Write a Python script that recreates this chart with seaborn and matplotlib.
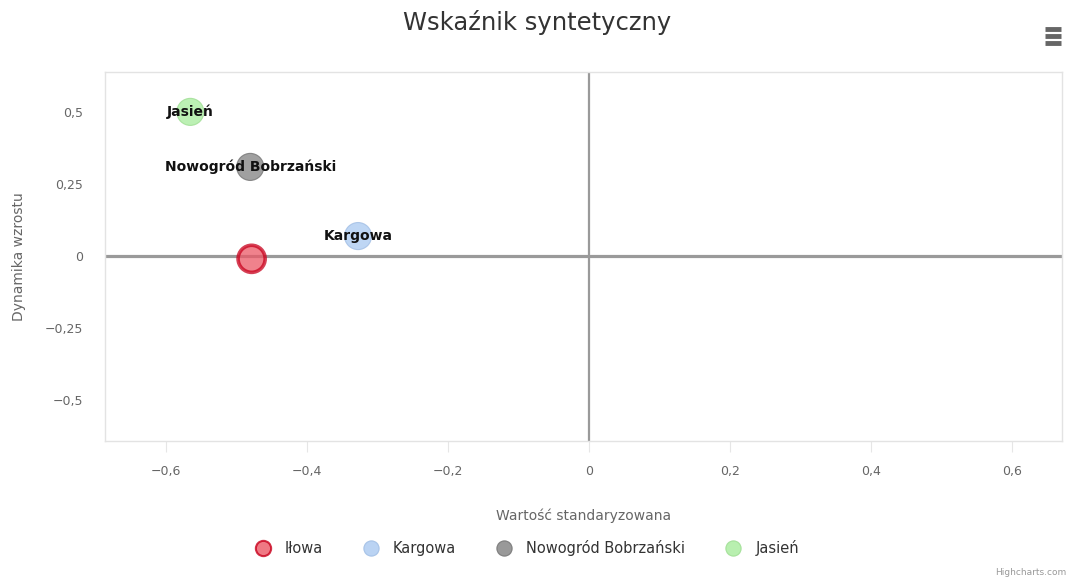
import matplotlib
matplotlib.use("Agg")
import matplotlib.pyplot as plt
from matplotlib.lines import Line2D
from matplotlib.ticker import FixedLocator, FuncFormatter
import seaborn as sns
import pandas as pd

# data
gminy = ["Iłowa", "Kargowa", "Nowogród Bobrzański", "Jasień"]
wartosc = [-0.479, -0.328, -0.481, -0.566]
dynamika = [-0.01, 0.069, 0.309, 0.500]
kolory = ["#ec5866", "#a9c9f1", "#808080", "#a6eb9b"]
obwodki = ["#c8001c", "#9dbbe3", "#6f6f6f", "#9bdc8f"]
podpisy = [False, True, True, True]

x_ticks = [-0.6, -0.4, -0.2, 0, 0.2, 0.4, 0.6]
y_ticks = [-0.5, -0.25, 0, 0.25, 0.5]

df = pd.DataFrame({"gmina": gminy, "x": wartosc, "y": dynamika})

sns.set_style("white")
plt.rcParams["font.family"] = ["DejaVu Sans"]

fig = plt.figure(figsize=(10.75, 5.84), dpi=100)
ax = fig.add_axes([0.0977, 0.245, 0.8903, 0.632])

# quadrant lines
ax.axhline(0, color="#9a9a9a", lw=2.3, zorder=1)
ax.axvline(0, color="#9a9a9a", lw=1.6, zorder=1)

sns.scatterplot(data=df, x="x", y="y", hue="gmina", palette=dict(zip(gminy, kolory)),
                s=380, alpha=0.75, legend=False, ax=ax, zorder=3)
coll = ax.collections[-1]
coll.set_edgecolors(obwodki)
coll.set_linewidths([2.6, 0.8, 0.8, 0.8])

for g, x, y, show in zip(gminy, wartosc, dynamika, podpisy):
    if show:
        ax.text(x, y, g, ha="center", va="center", fontsize=10, fontweight="bold",
                color="#111111", zorder=4)

ax.set_xlim(-0.687, 0.671)
ax.set_ylim(-0.642, 0.639)
ax.xaxis.set_major_locator(FixedLocator(x_ticks))
ax.yaxis.set_major_locator(FixedLocator(y_ticks))
fmt = FuncFormatter(lambda v, p: ("%g" % v).replace(".", ",").replace("-", "\u2212"))
ax.xaxis.set_major_formatter(fmt)
ax.yaxis.set_major_formatter(fmt)
ax.tick_params(axis="x", length=8, width=0.8, color="#e6e6e6", labelcolor="#666666",
               labelsize=9, pad=9, bottom=True)
ax.tick_params(axis="y", length=0, labelcolor="#666666", labelsize=9, pad=16)

for sp in ax.spines.values():
    sp.set_color("#e3e3e3")
    sp.set_linewidth(1.0)

ax.set_xlabel("Wartość standaryzowana", color="#666666", fontsize=10, labelpad=22)
ax.set_ylabel("Dynamika wzrostu", color="#666666", fontsize=10)
ax.yaxis.set_label_coords(-0.083, 0.5)

fig.suptitle("Wskaźnik syntetyczny", x=0.5, y=0.962, fontsize=17.5, color="#333333", va="center")

handles = [Line2D([], [], marker="o", ls="", markersize=11, markerfacecolor=c,
                  markeredgecolor=e, markeredgewidth=1.5 if i == 0 else 0.8, alpha=0.8)
           for i, (c, e) in enumerate(zip(kolory, obwodki))]
fig.legend(handles, gminy, loc="center", bbox_to_anchor=(0.487, 0.062), ncol=4,
           frameon=False, handletextpad=0.5, columnspacing=2.3,
           labelcolor="#333333", prop={"size": 10.5})

# export menu icon
for yy in [0.951, 0.939, 0.927]:
    fig.add_artist(Line2D([0.9725, 0.987], [yy, yy], color="#666666", lw=3.5,
                          solid_capstyle="butt"))

fig.text(0.992, 0.012, "Highcharts.com", ha="right", va="bottom", fontsize=6.5, color="#999999")

fig.savefig("out.png", dpi=100)
